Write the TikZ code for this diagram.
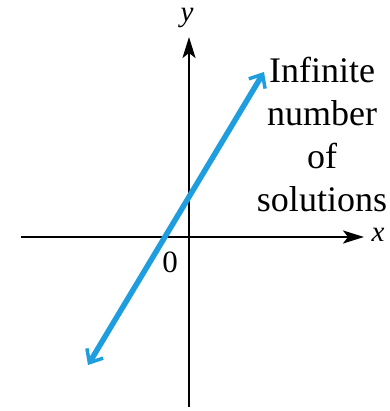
\documentclass[tikz,border=0pt]{standalone}
\usepackage{fontspec}
\setmainfont{Liberation Serif}
\usetikzlibrary{arrows.meta}
\definecolor{lineblue}{RGB}{30,158,222}
\tikzset{
  axis/.style={line width=2.2pt, -{Stealth[length=21pt,width=13pt,inset=5pt]}},
  solline/.style={line width=5.5pt, lineblue, {Straight Barb[length=11pt,width=19pt,line width=3.5pt]}-{Straight Barb[length=11pt,width=19pt,line width=3.5pt]}},
  lab/.style={font=\fontsize{29}{30}\selectfont\itshape, inner sep=0pt},
  txt/.style={font=\fontsize{36}{43}\selectfont, align=center, inner sep=0pt}
}
\begin{document}
\begin{tikzpicture}[x=1pt,y=-1pt]
\useasboundingbox (0,0) rectangle (389,411);
\coordinate (xl) at (21,237);
\coordinate (xr) at (364,237);
\coordinate (yb) at (189,407);
\coordinate (yt) at (189,37);
\draw[axis] (xl) -- (xr);
\draw[axis] (yb) -- (yt);
\node[lab] (xlab) at (378,235) {x};
\node[lab] (ylab) at (187,18) {y};
\node[font=\fontsize{31}{31}\selectfont, inner sep=0pt] (zero) at (170,262) {0};
\coordinate (lo) at (88,365);
\coordinate (hi) at (264,72);
\draw[solline] (lo) -- (hi);
\node[txt, anchor=north] (info) at (322,57) {Infinite\\number\\of\\solutions};
\end{tikzpicture}
\end{document}
